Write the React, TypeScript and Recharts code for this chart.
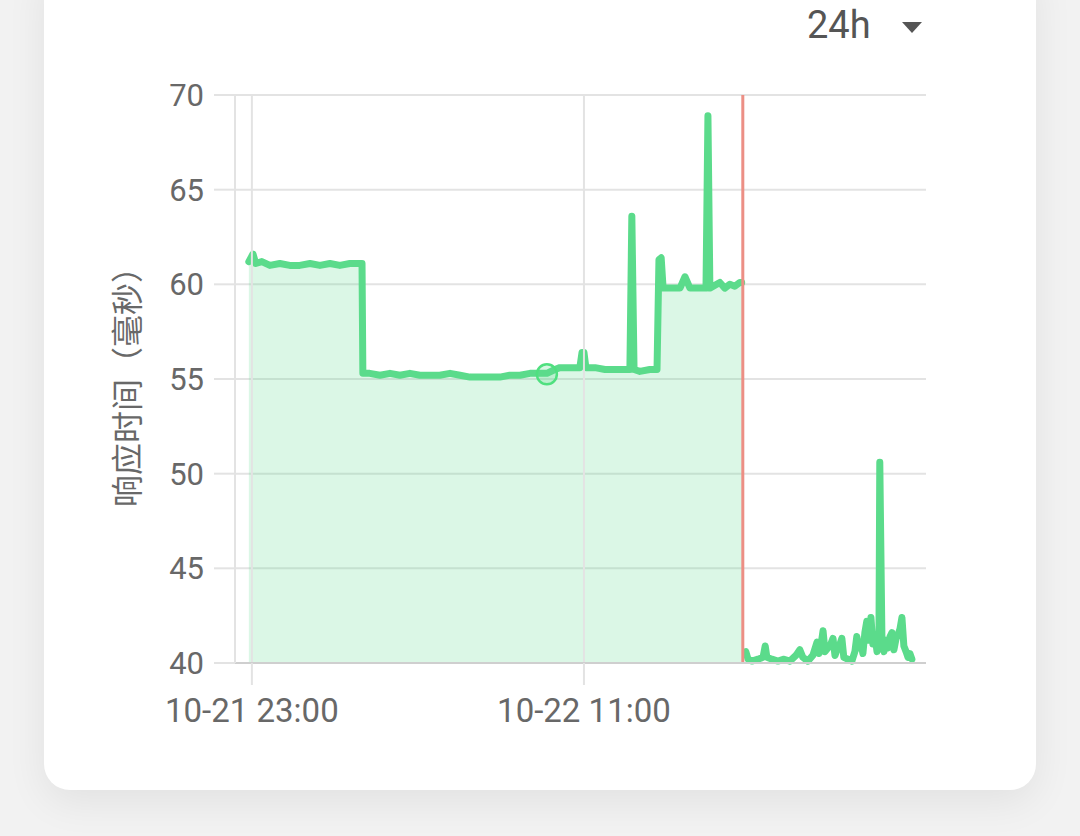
import React from "react";
import {
  ComposedChart,
  Area,
  Line,
  XAxis,
  YAxis,
  CartesianGrid,
  ReferenceLine,
  ReferenceDot,
} from "recharts";

// hours counted from 10-21 23:00
const beforeTimes = [
  -0.11, 0.04, 0.14, 0.36, 0.65, 1.01, 1.37, 1.73, 2.1, 2.46, 2.82, 3.18, 3.54,
  3.83, 3.98, 4.01, 4.26, 4.63, 4.99, 5.35, 5.71, 6.07, 6.43, 6.79, 7.16, 7.52,
  7.88, 8.24, 8.6, 8.96, 9.32, 9.69, 10.05, 10.41, 10.66, 10.95, 11.13, 11.49,
  11.85, 11.93, 12.0, 12.07, 12.4, 12.76, 13.12, 13.48, 13.66, 13.73, 13.81,
  14.02, 14.38, 14.64, 14.71, 14.79, 14.86, 15.11, 15.47, 15.65, 15.83, 16.19,
  16.41, 16.48, 16.55, 16.91, 17.09, 17.27, 17.45, 17.63, 17.7,
];
const beforeValues = [
  61.2, 61.6, 61.1, 61.2, 61.0, 61.1, 61.0, 61.0, 61.1, 61.0, 61.1, 61.0, 61.1,
  61.1, 61.1, 55.3, 55.3, 55.2, 55.3, 55.2, 55.3, 55.2, 55.2, 55.2, 55.3, 55.2,
  55.1, 55.1, 55.1, 55.1, 55.2, 55.2, 55.3, 55.3, 55.3, 55.5, 55.6, 55.6, 55.6,
  56.4, 56.4, 55.6, 55.6, 55.5, 55.5, 55.5, 55.5, 63.6, 55.5, 55.4, 55.5, 55.5,
  61.3, 61.4, 59.8, 59.8, 59.8, 60.4, 59.8, 59.8, 59.8, 68.9, 59.8, 60.1, 59.8,
  60.0, 59.9, 60.1, 60.1,
];

const afterTimes = [
  17.85, 17.93, 18.07, 18.29, 18.47, 18.55, 18.61, 18.79, 19.01, 19.23, 19.44,
  19.66, 19.8, 19.91, 20.09, 20.27, 20.42, 20.49, 20.56, 20.64, 20.71, 20.82,
  20.92, 21.0, 21.07, 21.17, 21.25, 21.32, 21.39, 21.54, 21.68, 21.79, 21.86,
  21.93, 22.01, 22.08, 22.15, 22.22, 22.3, 22.37, 22.44, 22.51, 22.59, 22.66,
  22.69, 22.77, 22.84, 22.91, 22.99, 23.06, 23.13, 23.2, 23.28, 23.35, 23.42,
  23.49, 23.56, 23.64, 23.71, 23.78, 23.85,
];
const afterValues = [
  40.6, 40.2, 40.1, 40.2, 40.3, 40.9, 40.3, 40.2, 40.1, 40.2, 40.1, 40.4, 40.7,
  40.3, 40.1, 40.4, 41.1, 40.5, 40.9, 41.7, 40.6, 40.8, 41.0, 41.3, 40.4, 40.8,
  41.0, 41.3, 40.3, 40.2, 40.1, 40.6, 41.4, 40.8, 41.0, 40.5, 41.6, 42.2, 41.2,
  42.4, 41.0, 41.5, 40.6, 41.2, 50.6, 41.0, 40.6, 41.2, 40.8, 41.4, 41.6, 40.7,
  41.3, 41.5, 41.8, 42.4, 40.9, 40.6, 40.3, 40.5, 40.2,
];

const xTicks = [0, 12];
const xTickLabels = ["10-21 23:00", "10-22 11:00"];
const yTicks = [40, 45, 50, 55, 60, 65, 70];
const alertTime = 17.74;
const markerTime = 10.66;
const markerValue = 55.25;

const GREEN = "#5bdb8b";
const GRID = "#e3e3e3";

const rows = [
  ...beforeTimes.map((t, i) => ({ t, a: beforeValues[i] })),
  ...afterTimes.map((t, i) => ({ t, b: afterValues[i] })),
];

export default function App() {
  return (
    <div
      style={{
        position: "fixed",
        left: 0,
        top: 0,
        width: 1080,
        height: 836,
        background: "#f2f2f2",
        overflow: "hidden",
        fontFamily: "Roboto, 'Noto Sans CJK SC', sans-serif",
      }}
    >
      <div
        style={{
          position: "absolute",
          left: 44,
          top: -40,
          width: 992,
          height: 830,
          borderRadius: 26,
          background: "#fff",
          boxShadow: "0 12px 40px rgba(0,0,0,0.07)",
        }}
      />
      <div
        style={{
          position: "absolute",
          left: 807,
          top: 6,
          fontSize: 38,
          lineHeight: "38px",
          color: "#555",
        }}
      >
        24h
      </div>
      <div
        style={{
          position: "absolute",
          left: 902,
          top: 22,
          width: 0,
          height: 0,
          borderLeft: "10px solid transparent",
          borderRight: "10px solid transparent",
          borderTop: "11px solid #555",
        }}
      />
      <div style={{ position: "absolute", left: 0, top: 0 }}>
        <ComposedChart
          width={1080}
          height={836}
          data={rows}
          margin={{ top: 95, right: 154, bottom: 93, left: 0 }}
        >
          <CartesianGrid stroke={GRID} strokeWidth={2} vertical={false} />
          {xTicks.map((t) => (
            <ReferenceLine key={t} x={t} stroke={GRID} strokeWidth={2} />
          ))}
          <XAxis
            dataKey="t"
            type="number"
            domain={[-0.61, 24.36]}
            ticks={xTicks}
            tickFormatter={(v: number) => xTickLabels[xTicks.indexOf(v)] ?? ""}
            height={80}
            tickSize={22}
            tickMargin={14}
            tickLine={{ stroke: GRID, strokeWidth: 2 }}
            axisLine={{ stroke: "#cfcfcf", strokeWidth: 2 }}
            tick={{ fill: "#686868", fontSize: 33 }}
            allowDataOverflow
          />
          <YAxis
            type="number"
            domain={[40, 70]}
            ticks={yTicks}
            width={235}
            tickSize={21}
            tickMargin={10}
            tickLine={{ stroke: GRID, strokeWidth: 2 }}
            axisLine={{ stroke: GRID, strokeWidth: 2 }}
            tick={{ fill: "#686868", fontSize: 31 }}
            label={{
              value: "响应时间（毫秒）",
              angle: -90,
              position: "center",
              dx: 10,
              fill: "#686868",
              fontSize: 32,
              fontFamily: "'Noto Sans CJK SC', sans-serif",
            }}
          />
          <Area
            dataKey="a"
            stroke={GREEN}
            strokeWidth={7}
            strokeLinejoin="round"
            strokeLinecap="round"
            fill={GREEN}
            fillOpacity={0.22}
            dot={false}
            activeDot={false}
            isAnimationActive={false}
          />
          <Line
            dataKey="b"
            stroke={GREEN}
            strokeWidth={7}
            strokeLinejoin="round"
            strokeLinecap="round"
            dot={false}
            activeDot={false}
            isAnimationActive={false}
          />
          <ReferenceLine x={alertTime} stroke="#ec8f85" strokeWidth={3} />
          <ReferenceDot
            x={markerTime}
            y={markerValue}
            r={10}
            fill={GREEN}
            fillOpacity={0.25}
            stroke="#4fe07f"
            strokeWidth={2.5}
          />
        </ComposedChart>
      </div>
    </div>
  );
}
